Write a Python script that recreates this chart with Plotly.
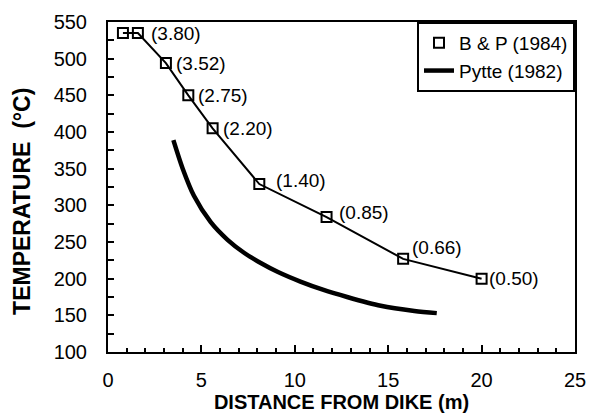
import plotly.graph_objects as go

# B & P (1984) data
bp_x = [0.8, 1.6, 3.1, 4.3, 5.6, 8.1, 11.7, 15.8, 20.0]
bp_y = [535, 535, 494, 450, 405, 329, 284, 227, 200]
bp_labels = ["", "(3.80)", "(3.52)", "(2.75)", "(2.20)", "(1.40)", "(0.85)", "(0.66)", "(0.50)"]

# Pytte (1982) curve
py_x = [3.5, 4.0, 4.6, 5.5, 6.4, 7.3, 8.2, 9.1, 10.3, 11.5, 12.8, 14.6, 16.4, 17.6]
py_y = [389, 350, 313, 277, 253, 235, 221, 209, 196, 185, 175, 163, 156, 153]

x_title = "DISTANCE FROM DIKE (m)"
y_title = "TEMPERATURE\u00a0 (°C)"

# label offsets in pixels (style)
label_dx = [0, 11, 8, 8, 8, 15, 10, 7, 5]
label_dy = [0, 0, 0, 0, 0, 4, 5, 11, 0]

FONT = "Liberation Sans, Arial, Helvetica, sans-serif"

fig = go.Figure()
fig.add_trace(go.Scatter(x=bp_x, y=bp_y, mode="lines", line=dict(color="black", width=2),
                         showlegend=False, hoverinfo="skip"))
fig.add_trace(go.Scatter(x=bp_x, y=bp_y, mode="markers", name="B & P (1984)",
                         marker=dict(symbol="square-open", size=10, color="black",
                                     line=dict(width=2, color="black")),
                         cliponaxis=False))
fig.add_trace(go.Scatter(x=py_x, y=py_y, mode="lines", name="Pytte (1982)",
                         line=dict(color="black", width=4.5, shape="spline", smoothing=0.8)))

for x, y, t, dx, dy in zip(bp_x, bp_y, bp_labels, label_dx, label_dy):
    if t:
        fig.add_annotation(x=x, y=y, text=t, showarrow=False, xanchor="left", yanchor="middle",
                           xshift=dx, yshift=dy, font=dict(family=FONT, size=19, color="black"))

# y axis title as rotated annotation (positioned like the reference)
fig.add_annotation(xref="paper", yref="paper", x=-0.184, y=0.455, text="<b>" + y_title + "</b>",
                   textangle=-90, showarrow=False, xanchor="center", yanchor="middle",
                   font=dict(family=FONT, size=23, color="black"))

axis_common = dict(showline=True, linewidth=2, linecolor="black", mirror=True,
                   ticks="inside", tickcolor="black", tickwidth=2, showgrid=False,
                   zeroline=False, automargin=False,
                   tickfont=dict(family=FONT, size=20, color="black"))

fig.update_xaxes(range=[0, 25], dtick=5, tick0=0, ticklen=7,
                 minor=dict(dtick=1, ticks="inside", ticklen=4, tickcolor="black", tickwidth=1.5),
                 ticklabelstandoff=9,
                 title=dict(text="<b>" + x_title + "</b>", standoff=1,
                            font=dict(family=FONT, size=20, color="black")),
                 **axis_common)
fig.update_yaxes(range=[100, 550], dtick=50, tick0=100, ticklen=6,
                 minor=dict(dtick=25, ticks="inside", ticklen=6, tickcolor="black", tickwidth=1.5),
                 ticklabelstandoff=15,
                 **axis_common)

fig.update_layout(width=589, height=418, margin=dict(l=108, r=14, t=22, b=66),
                  paper_bgcolor="white", plot_bgcolor="white",
                  legend=dict(x=1, y=1, xanchor="right", yanchor="top", bgcolor="white",
                              bordercolor="black", borderwidth=2,
                              font=dict(family=FONT, size=19, color="black"),
                              tracegroupgap=0, itemwidth=30))

fig.write_html("out.html", config={"displayModeBar": False},
               post_script="document.body.style.margin='0px';document.body.style.overflow='hidden';")
